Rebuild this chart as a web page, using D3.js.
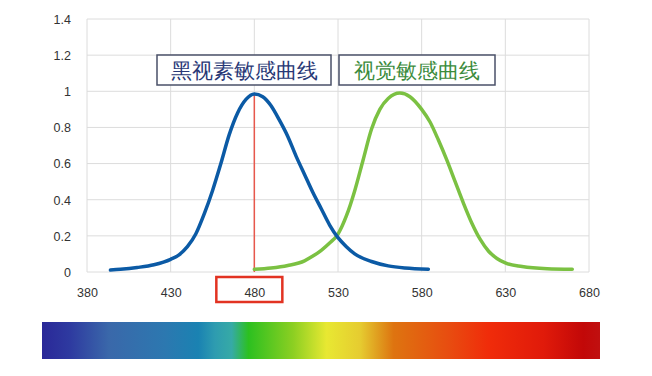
<!DOCTYPE html>
<html>
<head>
<meta charset="utf-8">
<script src="https://cdn.jsdelivr.net/npm/d3@7"></script>
<style>
  body { margin: 0; background: #fff; }
  text { font-family: "Liberation Sans", Arial, sans-serif; }
</style>
</head>
<body>
<div id="chart"></div>
<script>
const width = 652;
const height = 376;

// melanopsin (黑视素) sensitivity
const melanWl  = [394, 400, 410, 420, 430, 435, 440, 445, 450, 455, 460, 465, 470, 475, 480, 485, 490, 495, 500, 505, 510, 515, 520, 525, 530, 535, 540, 550, 560, 570, 584];
const melanVal = [0.011, 0.015, 0.025, 0.04, 0.07, 0.095, 0.14, 0.21, 0.32, 0.45, 0.6, 0.76, 0.88, 0.955, 0.985, 0.97, 0.92, 0.84, 0.75, 0.64, 0.54, 0.44, 0.35, 0.26, 0.19, 0.14, 0.1, 0.058, 0.034, 0.022, 0.015];

// photopic (视觉) sensitivity
const photoWl  = [480, 490, 500, 510, 515, 520, 525, 530, 535, 540, 545, 550, 555, 560, 567, 573, 580, 585, 590, 595, 600, 605, 610, 615, 620, 625, 630, 640, 655, 670];
const photoVal = [0.015, 0.022, 0.036, 0.062, 0.088, 0.12, 0.16, 0.21, 0.31, 0.45, 0.62, 0.79, 0.9, 0.96, 0.99, 0.97, 0.9, 0.83, 0.73, 0.62, 0.5, 0.38, 0.27, 0.18, 0.115, 0.075, 0.05, 0.03, 0.018, 0.015];

const xTicks = [380, 430, 480, 530, 580, 630, 680];
const yTicks = [0, 0.2, 0.4, 0.6, 0.8, 1, 1.2, 1.4];
const markWl = 480;

const legendLabels = ['黑视素敏感曲线', '视觉敏感曲线'];

// spectrum bar colours (offset, colour)
const spectrumOffsets = [0, 0.05, 0.12, 0.22, 0.28, 0.31, 0.34, 0.37, 0.45, 0.51, 0.57, 0.6, 0.63, 0.73, 0.8, 0.9, 0.97, 1];
const spectrumColors = ['#2a2898', '#2e3aa0', '#3a68aa', '#2c78b0', '#1a82b2', '#2e9cb0', '#36aaa6', '#2cc020', '#8ccf22', '#e8e832', '#e6cc30', '#e0a020', '#de7410', '#e84c10', '#f02c0a', '#e01a0a', '#c20808', '#c01010'];

const margin = {top: 19, right: 63, bottom: 104, left: 87};
const innerW = width - margin.left - margin.right;
const innerH = height - margin.top - margin.bottom;

const svg = d3.select('#chart').append('svg')
  .attr('width', width)
  .attr('height', height);

const x = d3.scaleLinear().domain([380, 680]).range([margin.left, margin.left + innerW]);
const y = d3.scaleLinear().domain([0, 1.4]).range([margin.top + innerH, margin.top]);

// grid
svg.append('g').selectAll('line.h')
  .data(yTicks)
  .join('line')
  .attr('x1', margin.left).attr('x2', margin.left + innerW)
  .attr('y1', d => y(d)).attr('y2', d => y(d))
  .attr('stroke', '#dcdcdc').attr('stroke-width', 1);

svg.append('g').selectAll('line.v')
  .data(xTicks)
  .join('line')
  .attr('x1', d => x(d)).attr('x2', d => x(d))
  .attr('y1', margin.top).attr('y2', margin.top + innerH)
  .attr('stroke', '#dcdcdc').attr('stroke-width', 1);

// axes (labels only, no tick marks)
const yAxis = svg.append('g')
  .attr('transform', `translate(${margin.left - 13},0)`)
  .call(d3.axisLeft(y).tickValues(yTicks).tickSize(0).tickFormat(d => d3.format('~g')(d)));
yAxis.select('.domain').remove();
yAxis.selectAll('text').attr('font-size', 12.5).attr('fill', '#333').attr('dy', '0.35em');

const xAxis = svg.append('g')
  .attr('transform', `translate(0,${margin.top + innerH + 13})`)
  .call(d3.axisBottom(x).tickValues(xTicks).tickSize(0));
xAxis.select('.domain').remove();
xAxis.selectAll('text').attr('font-size', 12.5).attr('fill', '#333').attr('dy', '0.71em');

// marker line at 480
const line = d3.line().x(d => x(d[0])).y(d => y(d[1])).curve(d3.curveMonotoneX);
const melanPeak = d3.max(melanVal);
svg.append('line')
  .attr('x1', x(markWl)).attr('x2', x(markWl))
  .attr('y1', y(melanPeak)).attr('y2', y(0))
  .attr('stroke', '#e8584c').attr('stroke-width', 1.5);

svg.append('path')
  .datum(d3.zip(photoWl, photoVal))
  .attr('d', line)
  .attr('fill', 'none')
  .attr('stroke', '#7bc142')
  .attr('stroke-width', 3.5)
  .attr('stroke-linecap', 'round');

svg.append('path')
  .datum(d3.zip(melanWl, melanVal))
  .attr('d', line)
  .attr('fill', 'none')
  .attr('stroke', '#0b5aa5')
  .attr('stroke-width', 3.5)
  .attr('stroke-linecap', 'round');

// red box around the 480 label
svg.append('rect')
  .attr('x', x(markWl) - 38).attr('y', 277)
  .attr('width', 66).attr('height', 25)
  .attr('fill', 'none')
  .attr('stroke', '#e23322')
  .attr('stroke-width', 2.5);

// legend boxes
const legendBoxes = [
  {x: 157, w: 174, color: '#283876'},
  {x: 339, w: 156, color: '#3b8b3c'}
];
legendBoxes.forEach((b, i) => {
  svg.append('rect')
    .attr('x', b.x).attr('y', 55)
    .attr('width', b.w).attr('height', 30)
    .attr('fill', '#fff')
    .attr('stroke', '#4a5068')
    .attr('stroke-width', 1.5);
  svg.append('text')
    .attr('x', b.x + b.w / 2).attr('y', 71)
    .attr('dy', '0.36em')
    .attr('text-anchor', 'middle')
    .attr('font-family', '"Noto Sans CJK SC", sans-serif')
    .attr('font-size', 20.5)
    .attr('fill', b.color)
    .text(legendLabels[i]);
});

// spectrum bar
const grad = svg.append('defs').append('linearGradient')
  .attr('id', 'spectrum').attr('x1', '0%').attr('x2', '100%');
grad.selectAll('stop')
  .data(d3.zip(spectrumOffsets, spectrumColors))
  .join('stop')
  .attr('offset', d => d[0])
  .attr('stop-color', d => d[1]);

svg.append('rect')
  .attr('x', 42).attr('y', 322)
  .attr('width', 558).attr('height', 37)
  .attr('fill', 'url(#spectrum)');
</script>
</body>
</html>
